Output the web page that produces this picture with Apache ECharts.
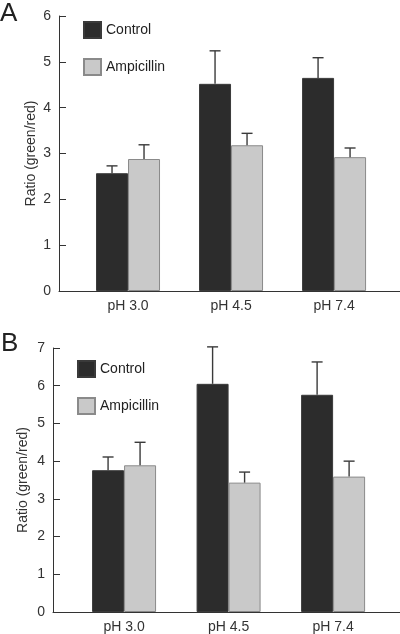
<!DOCTYPE html>
<html>
<head>
<meta charset="utf-8">
<script src="https://cdn.jsdelivr.net/npm/echarts@6/dist/echarts.min.js"></script>
<style>
html,body{margin:0;padding:0;background:#fff;}
#chart{width:400px;height:634px;}
</style>
</head>
<body>
<div id="chart"></div>
<script>
// ---- data ----
var categories = ['pH 3.0', 'pH 4.5', 'pH 7.4'];
var seriesNames = ['Control', 'Ampicillin'];
var yTicksA = [0, 1, 2, 3, 4, 5, 6];
var yTicksB = [0, 1, 2, 3, 4, 5, 6, 7];
// Panel A
var controlA = [2.57, 4.52, 4.65];
var controlErrA = [0.16, 0.72, 0.44];
var ampicillinA = [2.88, 3.18, 2.92];
var ampicillinErrA = [0.31, 0.26, 0.20];
// Panel B
var controlB = [3.76, 6.05, 5.76];
var controlErrB = [0.35, 0.98, 0.87];
var ampicillinB = [3.89, 3.43, 3.59];
var ampicillinErrB = [0.61, 0.28, 0.41];

// ---- helpers ----
var FONT = 'Liberation Sans, Arial, Helvetica, sans-serif';
var BAR_W = 32;
var colorCtrl = '#2c2c2c';
var colorAmp = '#c9c9c9';

function barData(vals) {
  return vals.map(function (v, i) { return [i + 1, v]; });
}
function errData(vals, errs) {
  return vals.map(function (v, i) { return [i + 1, v, errs[i]]; });
}
function errRender(offset) {
  return function (params, api) {
    var x = api.value(0), y = api.value(1), e = api.value(2);
    var p0 = api.coord([x, y]);
    var p1 = api.coord([x, y + e]);
    var cx = p0[0] + offset;
    var half = 5.5;
    var style = { stroke: '#3a3a3a', lineWidth: 1.4 };
    return {
      type: 'group',
      children: [
        { type: 'line', shape: { x1: cx, y1: p0[1], x2: cx, y2: p1[1] }, style: style },
        { type: 'line', shape: { x1: cx - half, y1: p1[1], x2: cx + half, y2: p1[1] }, style: style }
      ]
    };
  };
}
function xAxisDef(grid, min, max) {
  return {
    type: 'value', gridIndex: grid, min: min, max: max,
    axisLine: { show: true, lineStyle: { color: '#333', width: 1 } },
    axisTick: { show: false },
    splitLine: { show: false },
    axisLabel: {
      customValues: [1, 2, 3],
      formatter: function (v) { return categories[Math.round(v) - 1] || ''; },
      color: '#333', fontSize: 14, fontFamily: FONT, margin: 8
    }
  };
}
function yAxisDef(grid, max, gap) {
  return {
    type: 'value', gridIndex: grid, min: 0, max: max, interval: 1,
    name: 'Ratio (green/red)', nameLocation: 'middle', nameGap: gap,
    nameMoveOverlap: false,
    nameTextStyle: { color: '#333', fontSize: 14, fontFamily: FONT },
    axisLine: { show: true, lineStyle: { color: '#333', width: 1 } },
    axisTick: { show: true, inside: true, length: 7, lineStyle: { color: '#333' } },
    splitLine: { show: false },
    axisLabel: { color: '#333', fontSize: 14, fontFamily: FONT, margin: 8 }
  };
}
function barSeries(name, vals, color, border, axis) {
  return {
    name: name, type: 'bar', xAxisIndex: axis, yAxisIndex: axis,
    data: barData(vals), barWidth: BAR_W, barGap: '0%',
    itemStyle: { color: color, borderColor: border, borderWidth: 1 },
    emphasis: { disabled: true }
  };
}
function errSeries(vals, errs, offset, axis) {
  return {
    type: 'custom', xAxisIndex: axis, yAxisIndex: axis, z: 5,
    data: errData(vals, errs), renderItem: errRender(offset), silent: true
  };
}
function legendDef(left, top) {
  return {
    data: seriesNames, orient: 'vertical', left: left, top: top, padding: 0,
    itemWidth: 17, itemHeight: 16, itemGap: 19, itemTextGap: 7,
    textStyle: { color: '#222', fontSize: 14, fontFamily: FONT },
    selectedMode: false, icon: 'rect'
  };
}

var chart = echarts.init(document.getElementById('chart'), null, { renderer: 'canvas' });
chart.setOption({
  animation: false,
  backgroundColor: '#fff',
  title: [
    { text: 'A', left: 0, top: 1, padding: 0, textStyle: { fontSize: 26, fontWeight: 'normal', color: '#222', fontFamily: FONT } },
    { text: 'B', left: 1, top: 331, padding: 0, textStyle: { fontSize: 26, fontWeight: 'normal', color: '#222', fontFamily: FONT } }
  ],
  legend: [legendDef(83, 21), legendDef(77, 360)],
  grid: [
    { left: 59, top: 16, width: 341, height: 275, containLabel: false },
    { left: 53, top: 348, width: 347, height: 265, containLabel: false }
  ],
  xAxis: [xAxisDef(0, 0.33, 3.64), xAxisDef(1, 0.32, 3.64)],
  yAxis: [yAxisDef(0, 6, 21), yAxisDef(1, 7, 23)],
  series: [
    barSeries('Control', controlA, colorCtrl, '#3a3a3a', 0),
    barSeries('Ampicillin', ampicillinA, colorAmp, '#8a8a8a', 0),
    errSeries(controlA, controlErrA, -BAR_W / 2, 0),
    errSeries(ampicillinA, ampicillinErrA, BAR_W / 2, 0),
    barSeries('Control', controlB, colorCtrl, '#3a3a3a', 1),
    barSeries('Ampicillin', ampicillinB, colorAmp, '#8a8a8a', 1),
    errSeries(controlB, controlErrB, -BAR_W / 2, 1),
    errSeries(ampicillinB, ampicillinErrB, BAR_W / 2, 1)
  ]
});
</script>
</body>
</html>
